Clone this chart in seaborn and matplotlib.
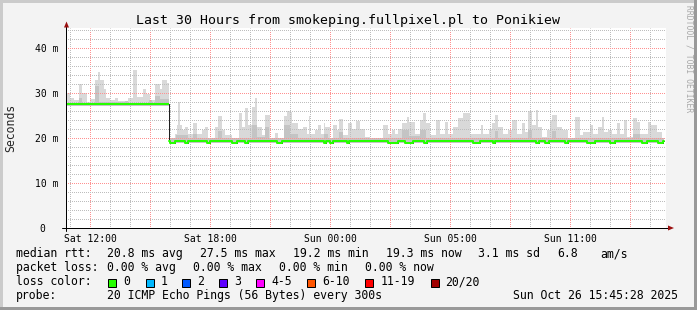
import numpy as np
import matplotlib
matplotlib.use("Agg")
import matplotlib.pyplot as plt
import matplotlib.transforms as mtransforms
from matplotlib.patches import Rectangle, Polygon
import seaborn as sns

# ---------------- data (hours since start of the 30 h window, ms) ----------------
smoke_t = [0.00, 0.20, 0.40, 0.65, 0.80, 1.05, 1.20, 1.45, 1.60, 1.70, 1.90, 2.00, 2.20,
           2.45, 2.60, 3.10, 3.35, 3.55, 3.85, 4.00, 4.20, 4.45, 4.70, 4.80, 5.05,
           5.15, 5.45, 5.55, 5.60, 5.70, 5.80, 5.95, 6.10, 6.35, 6.55, 6.80, 6.95, 7.10,
           7.45, 7.60, 7.80, 7.95, 8.30, 8.65, 8.80, 8.95, 9.10, 9.30, 9.45, 9.55, 9.80,
           9.95, 10.20, 10.45, 10.60, 10.90, 11.05, 11.20, 11.30, 11.60, 11.85, 12.05,
           12.15, 12.20, 12.45, 12.60, 12.75, 12.90, 12.95, 13.20, 13.35, 13.55, 13.65,
           13.85, 14.10, 14.30, 14.50, 14.70,
           14.95, 15.20, 15.85, 16.10, 16.30, 16.45, 16.60, 16.80, 17.05, 17.15, 17.45,
           17.70, 17.85, 18.00, 18.20, 18.50, 18.70, 18.95, 19.10, 19.35, 19.60, 19.85,
           20.20, 20.75, 20.85, 21.15, 21.30, 21.45, 21.60, 21.85, 22.10, 22.30, 22.55,
           22.80, 22.95, 23.10, 23.30, 23.50, 23.60, 23.80, 24.05, 24.20, 24.30, 24.55, 24.80,
           25.10, 25.45, 25.70, 25.85, 26.20, 26.35, 26.60, 26.80, 26.90, 27.10, 27.30,
           27.55, 27.70, 27.90, 28.05, 28.35, 28.55, 28.70, 29.10, 29.25, 29.55, 29.80]
smoke_top = [30.0, 29.0, 28.5, 32.0, 30.0, 28.0, 28.7, 32.9, 34.6, 32.9, 31.0, 28.9, 28.5,
             29.0, 28.3, 29.0, 35.1, 29.2, 31.0, 29.8, 28.4, 32.0, 30.8, 33.0, 32.2,
             19.8, 21.0, 22.9, 28.0, 22.9, 21.8, 22.4, 21.0, 23.3, 21.0, 21.7, 22.4, 19.8,
             22.4, 24.9, 21.8, 20.6, 19.9, 25.5, 22.4, 26.6, 22.9, 27.0, 28.9, 22.4, 20.6,
             25.1, 20.0, 21.2, 19.9, 24.8, 26.1, 25.7, 23.4, 22.0, 22.5, 20.9,
             24.9, 20.9, 21.8, 23.0, 20.9, 23.3, 22.4, 20.0, 22.9, 21.8, 24.2,
             20.6, 23.3, 22.0, 23.7, 21.9,
             20.3, 19.9, 22.9, 21.0, 21.8, 21.0, 22.1, 23.3, 24.7, 23.6, 21.0,
             24.0, 25.5, 23.3, 20.6, 24.0, 21.0, 23.6, 21.0, 22.4, 24.4, 25.5,
             21.0, 23.0, 21.0, 22.0, 23.3, 25.1, 22.4, 21.0, 21.8, 24.0, 21.0,
             23.3, 21.4, 25.9, 22.9, 26.2, 22.4, 20.3, 21.8, 24.0, 25.1, 22.4, 21.8,
             19.9, 24.7, 20.6, 21.4, 22.9, 21.0, 22.4, 24.7, 21.4, 21.8, 21.0,
             23.3, 21.0, 24.0, 20.3, 24.4, 23.6, 21.0, 23.6, 22.9, 21.4, 19.9]

dark_t = [0.00, 0.65, 0.80, 1.45, 1.65, 2.95, 3.10, 4.15, 4.30, 4.45, 4.70,
          5.15, 5.50, 6.10, 6.35, 6.55, 7.60, 7.80, 9.30, 9.55, 9.95, 10.15, 10.90,
          11.20, 11.60, 12.90, 13.10, 13.65, 13.85, 16.80, 17.15, 17.70, 18.00, 21.45,
          21.60, 23.10, 23.30, 24.30, 24.50, 28.35, 28.70]
dark_top = [27.8, 28.8, 27.8, 31.5, 28.0, 28.3, 27.8, 28.5, 27.8, 29.3, 28.6,
            20.0, 20.6, 20.0, 21.0, 20.0, 21.5, 20.0, 22.9, 20.2, 22.4, 20.0, 22.8,
            21.0, 20.0, 21.0, 20.0, 21.3, 20.0, 21.8, 20.4, 21.8, 20.0, 21.6,
            20.0, 21.8, 20.0, 21.5, 20.0, 20.9, 20.0]

low_t = [0.00, 5.15]
low_v = [27.1, 18.9]

median_t = [0.00, 5.15, 5.20, 5.45, 5.95, 6.10, 7.05, 7.20, 8.30, 8.55, 8.95, 9.10,
            10.55, 10.80, 12.90, 13.00, 13.20, 13.35, 14.05, 14.15, 16.10, 16.60,
            16.95, 17.35, 17.90, 18.05, 20.35, 20.70, 21.35, 21.45, 23.50, 23.65,
            23.95, 24.15, 24.95, 25.10, 26.05, 26.45, 27.20, 27.45, 28.80, 29.05,
            29.60, 29.85]
median_v = [27.5, 19.3, 19.0, 19.3, 19.0, 19.3, 19.0, 19.3, 19.0, 19.3, 19.0, 19.3,
            19.0, 19.3, 19.0, 19.3, 19.0, 19.3, 19.0, 19.3, 19.0, 19.3,
            19.0, 19.3, 19.0, 19.3, 19.0, 19.3, 19.0, 19.3, 19.0, 19.3,
            19.0, 19.3, 19.0, 19.3, 19.0, 19.3, 19.0, 19.3, 19.0, 19.3,
            19.0, 19.3]
end_t = 29.9

x_major = [1.2, 4.2, 7.2, 10.2, 13.2, 16.2, 19.2, 22.2, 25.2, 28.2]
x_labels = ['Sat 12:00', '', 'Sat 18:00', '', 'Sun 00:00', '', 'Sun 05:00', '', 'Sun 11:00', '']
x_minor = [0.2 + k for k in range(30)]
y_major = [0, 10, 20, 30, 40]
y_labels = ['0', '10 m', '20 m', '30 m', '40 m']
y_minor = list(range(0, 45, 2))

title = 'Last 30 Hours from smokeping.fullpixel.pl to Ponikiew'
legend_rows = [
    [(16, 'median rtt:'), (107.3, '20.8 ms avg'), (200, '27.5 ms max'), (293.3, '19.2 ms min'),
     (386, '19.3 ms now'), (478.3, '3.1 ms sd'), (557, '6.8'), (600, 'am/s')],
    [(16, 'packet loss:'), (107.3, '0.00 % avg'), (193.3, '0.00 % max'), (279.3, '0.00 % min'),
     (365, '0.00 % now')],
    [(16, 'loss color:')],
    [(16, 'probe:'), (107.3, '20 ICMP Echo Pings (56 Bytes) every 300s'),
     (513.3, 'Sun Oct 26 15:45:28 2025')],
]
loss_labels = ['0', '1', '2', '3', '4-5', '6-10', '11-19', '20/20']
loss_colors = ['#26ff00', '#00b8ff', '#0059ff', '#5e00ff', '#ff00ff', '#ff5500', '#ff0000', '#a10000']
loss_box_x = [108.3, 145.7, 182.3, 219, 255.7, 307.3, 365, 431]
loss_text_x = [123.3, 161, 197.3, 234.3, 271, 322.3, 380.7, 445]

# ---------------- style ----------------
sns.set_style("white")
plt.rcParams['font.family'] = ['DejaVu Sans Mono', 'DejaVu Sans']

W, H = 697, 310
fig = plt.figure(figsize=(W / 100, H / 100), dpi=100, facecolor='#f3f3f3')

def fx(x):
    return x / W

def fy(y):
    return 1 - y / H

# plot area pixel-aligned: x 66..666, y 28..228 (from top)
ax = fig.add_axes([66 / W, 82 / H, 600 / W, 200 / H])
ax.set_facecolor('white')
ax.set_xlim(0, 30)
ax.set_ylim(0, 200 / 4.5)

def step_values(ts, vs, grid):
    idx = np.searchsorted(np.asarray(ts), grid, side='right') - 1
    return np.asarray(vs)[idx]

assert len(smoke_t) == len(smoke_top)
assert len(dark_t) == len(dark_top)
assert len(median_t) == len(median_v)

grid = np.unique(np.concatenate([smoke_t, dark_t, low_t, [end_t]]))
top = step_values(smoke_t, smoke_top, grid)
dark = step_values(dark_t, dark_top, grid)
low = step_values(low_t, low_v, grid)

ax.fill_between(grid, low, top, step='post', color='#d9d9d9', linewidth=0, zorder=1)
ax.fill_between(grid, low, dark, step='post', color='#c4c4c4', linewidth=0, zorder=1.5)

mgrid = np.array(median_t + [end_t])
mvals = np.array(median_v + [median_v[-1]])
# dark under-line (shows at the step change)
sns.lineplot(x=mgrid, y=mvals, ax=ax, drawstyle='steps-post', color='#202020',
             linewidth=0.72, zorder=4, estimator=None, sort=False)
# green loss-coloured median: first level as a flat segment, later levels as a step line
ax.hlines(median_v[0], mgrid[0], mgrid[1], colors='#26ff00', linewidth=1.44, zorder=5)
sns.lineplot(x=mgrid[1:], y=mvals[1:], ax=ax, drawstyle='steps-post', color='#26ff00',
             linewidth=1.44, zorder=5, estimator=None, sort=False)

# grid (1 px on / 1 px off, offset so dots land on whole pixels)
dotted = (0.5, (1, 1))
ax.set_xticks(x_major)
ax.set_xticklabels(x_labels)
ax.set_xticks(x_minor, minor=True)
ax.set_yticks(y_major)
ax.set_yticklabels(y_labels)
ax.set_yticks(y_minor, minor=True)
ax.set_axisbelow(False)
ax.grid(which='major', color='#ff9090', linestyle=dotted, linewidth=0.72, zorder=2.5)
ax.grid(which='minor', color='#bdbdbd', linestyle=dotted, linewidth=0.72, zorder=2.4)
ax.tick_params(axis='both', which='major', direction='out', length=2.2, width=0.72,
               color='#444444', labelsize=7, labelcolor='black')
ax.tick_params(axis='both', which='minor', direction='out', length=1.4, width=0.72,
               color='#888888')
ax.tick_params(axis='x', which='major', pad=2.4)
ax.tick_params(axis='y', which='major', pad=3.4)
for lab in ax.get_yticklabels():
    if lab.get_text() == '0':
        lab.set_transform(lab.get_transform() +
                          mtransforms.ScaledTranslation(-12.6 / 100, 0, fig.dpi_scale_trans))
for s in ax.spines.values():
    s.set_visible(False)

# axis lines with arrows
ax.plot([0, 0], [-3 / 200, (228 - 23) / 200], transform=ax.transAxes, clip_on=False,
        color='black', linewidth=0.72, zorder=6)
ax.plot([(62 - 66) / 600, (669 - 66) / 600], [0, 0], transform=ax.transAxes,
        clip_on=False, color='black', linewidth=0.72, zorder=6)
arrow_c = '#9b1010'
fig.add_artist(Polygon([(fx(64.0), fy(27.5)), (fx(69.0), fy(27.5)), (fx(66.5), fy(21.5))],
                       closed=True, facecolor=arrow_c, edgecolor='none', transform=fig.transFigure))
fig.add_artist(Polygon([(fx(668), fy(225.5)), (fx(668), fy(230.5)), (fx(674), fy(228))],
                       closed=True, facecolor=arrow_c, edgecolor='none', transform=fig.transFigure))

# texts
fig.text(fx(348), fy(24), title, ha='center', va='baseline', fontsize=9.5, color='black')
fig.text(fx(11), fy(128), 'Seconds', rotation=90, ha='center', va='center', fontsize=8.3)
fig.text(fx(689), fy(58.5), 'RRDTOOL / TOBI OETIKER', rotation=270, ha='center', va='center',
         fontsize=5.8, color='#a8a8a8')

baselines = [257.3, 271.3, 285.3, 299.3]
for row, base in zip(legend_rows, baselines):
    for x, s in row:
        fig.text(fx(x), fy(base), s, ha='left', va='baseline', fontsize=8.3, color='black')

for bx, tx, lab, col in zip(loss_box_x, loss_text_x, loss_labels, loss_colors):
    fig.add_artist(Rectangle((fx(bx), fy(286.5)), 8 / W, 8 / H, facecolor=col,
                             edgecolor='black', linewidth=0.72, transform=fig.transFigure))
    fig.text(fx(tx), fy(baselines[2]), lab, ha='left', va='baseline', fontsize=8.3, color='black')

# bevelled frame
fig.add_artist(Rectangle((0, fy(3)), 1, 3 / H, facecolor='#cbcbcb', edgecolor='none',
                         transform=fig.transFigure))
fig.add_artist(Rectangle((0, 0), 3 / W, 1, facecolor='#cbcbcb', edgecolor='none',
                         transform=fig.transFigure))
fig.add_artist(Rectangle((0, 0), 1, 3 / H, facecolor='#999999', edgecolor='none',
                         transform=fig.transFigure))
fig.add_artist(Rectangle((fx(694), 0), 3 / W, 1, facecolor='#999999', edgecolor='none',
                         transform=fig.transFigure))

fig.savefig('out.png', dpi=100, facecolor=fig.get_facecolor())
